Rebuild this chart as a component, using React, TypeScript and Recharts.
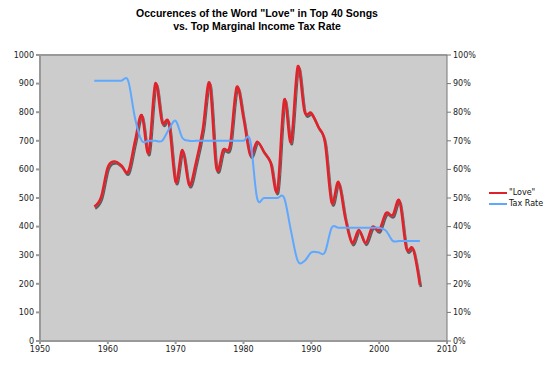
import { LineChart, Line, XAxis, YAxis, CartesianGrid, ReferenceLine } from 'recharts';

const years = [
  1958, 1959, 1960, 1961, 1962, 1963, 1964, 1965, 1966, 1967, 1968, 1969, 1970, 1971, 1972, 1973, 1974,
  1975, 1976, 1977, 1978, 1979, 1980, 1981, 1982, 1983, 1984, 1985, 1986, 1987, 1988, 1989, 1990, 1991,
  1992, 1993, 1994, 1995, 1996, 1997, 1998, 1999, 2000, 2001, 2002, 2003, 2004, 2005, 2006,
];

// occurrences of "love" per year
const loveCounts = [
  470, 503, 608, 628, 614, 592, 698, 790, 658, 900, 765, 762, 556, 668, 545, 625, 740,
  902, 605, 668, 683, 888, 780, 650, 697, 662, 624, 528, 843, 696, 960, 803, 797, 750,
  696, 484, 556, 430, 343, 388, 343, 399, 388, 447, 440, 490, 325, 322, 196,
];

// top marginal income tax rate, %
const taxRates = [
  91, 91, 91, 91, 91, 91, 78, 70, 70, 70, 70, 74, 77, 71, 70, 70, 70,
  70, 70, 70, 70, 70, 70, 70, 50, 50, 50, 50, 50, 38.5, 28, 28, 31, 31,
  31, 39.6, 39.6, 39.6, 39.6, 39.6, 39.6, 39.6, 39.6, 38.6, 35, 35, 35, 35, 35,
];

const xTicks = [1950, 1960, 1970, 1980, 1990, 2000, 2010];
const leftTicks = [0, 100, 200, 300, 400, 500, 600, 700, 800, 900, 1000];
const rightTicks = [0, 10, 20, 30, 40, 50, 60, 70, 80, 90, 100];

const data = years.map((year, i) => ({ year, love: loveCounts[i], tax: taxRates[i] }));

const RED = '#e0202a';
const BLUE = '#5ea8ff';
const font = 'DejaVu Sans, sans-serif';
const tickStyle = { fontSize: 8, fill: '#222', fontFamily: font };

// Excel-style smoothed line: a Catmull-Rom (cardinal, tension 0) curve in d3's curve interface
function smoothCurve(context: any) {
  const k = 1 / 6;
  const s: any = { _line: NaN, _point: 0 };
  const seg = (x: number, y: number) => {
    context.bezierCurveTo(
      s._x1 + k * (s._x2 - s._x0),
      s._y1 + k * (s._y2 - s._y0),
      s._x2 + k * (s._x1 - x),
      s._y2 + k * (s._y1 - y),
      s._x2,
      s._y2
    );
  };
  s.areaStart = () => { s._line = 0; };
  s.areaEnd = () => { s._line = NaN; };
  s.lineStart = () => {
    s._x0 = s._x1 = s._x2 = s._y0 = s._y1 = s._y2 = NaN;
    s._point = 0;
  };
  s.lineEnd = () => {
    if (s._point === 2) context.lineTo(s._x2, s._y2);
    else if (s._point === 3) seg(s._x1, s._y1);
    if (s._line || (s._line !== 0 && s._point === 1)) context.closePath();
    s._line = 1 - s._line;
  };
  s.point = (x: number, y: number) => {
    x = +x;
    y = +y;
    if (s._point === 0) {
      s._point = 1;
      s._line ? context.lineTo(x, y) : context.moveTo(x, y);
    } else if (s._point === 1) {
      s._point = 2;
      s._x1 = x;
      s._y1 = y;
    } else {
      s._point = 3;
      seg(x, y);
    }
    s._x0 = s._x1; s._x1 = s._x2; s._x2 = x;
    s._y0 = s._y1; s._y1 = s._y2; s._y2 = y;
  };
  return s;
}

const legendItems = [
  { label: '"Love"', color: RED },
  { label: 'Tax Rate', color: BLUE },
];

export default function App() {
  return (
    <div style={{ position: 'absolute', left: 0, top: 0, width: 560, height: 365, background: '#fff' }}>
      <svg width={0} height={0} style={{ position: 'absolute' }}>
        <defs>
          <filter id="lineShadow" x="-5%" y="-5%" width="110%" height="120%">
            <feGaussianBlur in="SourceAlpha" stdDeviation="0.6" />
            <feOffset dx="1" dy="1.5" result="off" />
            <feComponentTransfer>
              <feFuncA type="linear" slope="0.55" />
            </feComponentTransfer>
            <feMerge>
              <feMergeNode />
              <feMergeNode in="SourceGraphic" />
            </feMerge>
          </filter>
        </defs>
      </svg>
      <div
        style={{
          position: 'absolute',
          top: 7,
          width: 514,
          textAlign: 'center',
          fontFamily: 'Liberation Sans, Arial, sans-serif',
          fontWeight: 'bold',
          fontSize: 10.5,
          lineHeight: '13px',
          color: '#000',
        }}
      >
        Occurences of the Word "Love" in Top 40 Songs
        <br />
        vs. Top Marginal Income Tax Rate
      </div>
      <LineChart width={560} height={365} data={data} margin={{ top: 55, right: 73, bottom: 0, left: 0 }}>
        <CartesianGrid fill="#cccccc" horizontal={false} vertical={false} />
        <XAxis
          dataKey="year"
          type="number"
          domain={[1950, 2010]}
          ticks={xTicks}
          height={24}
          tick={tickStyle}
          tickSize={3}
          stroke="#999"
          strokeWidth={2}
        />
        <YAxis
          yAxisId="left"
          domain={[0, 1000]}
          ticks={leftTicks}
          width={40}
          tick={tickStyle}
          tickSize={4}
          stroke="#999"
          strokeWidth={2}
          interval={0}
        />
        <YAxis
          yAxisId="right"
          orientation="right"
          domain={[0, 100]}
          ticks={rightTicks}
          tickFormatter={(v) => `${v}%`}
          width={40}
          tick={tickStyle}
          tickSize={4}
          stroke="#777"
          interval={0}
        />
        <ReferenceLine yAxisId="left" y={1000} stroke="#999" strokeWidth={2} />
        <Line
          yAxisId="left"
          type={smoothCurve as any}
          dataKey="love"
          name='"Love"'
          stroke={RED}
          strokeWidth={2.5}
          dot={false}
          filter="url(#lineShadow)"
          isAnimationActive={false}
        />
        <Line
          yAxisId="right"
          type={smoothCurve as any}
          dataKey="tax"
          name="Tax Rate"
          stroke={BLUE}
          strokeWidth={2}
          dot={false}
          isAnimationActive={false}
        />
      </LineChart>
      <div
        style={{
          position: 'absolute',
          left: 489,
          top: 187,
          fontFamily: font,
          fontSize: 8,
          color: '#111',
          lineHeight: '11px',
        }}
      >
        {legendItems.map((item) => (
          <div key={item.label} style={{ display: 'flex', alignItems: 'center' }}>
            <span style={{ display: 'inline-block', width: 18, height: 2, background: item.color, marginRight: 2 }} />
            {item.label}
          </div>
        ))}
      </div>
    </div>
  );
}
